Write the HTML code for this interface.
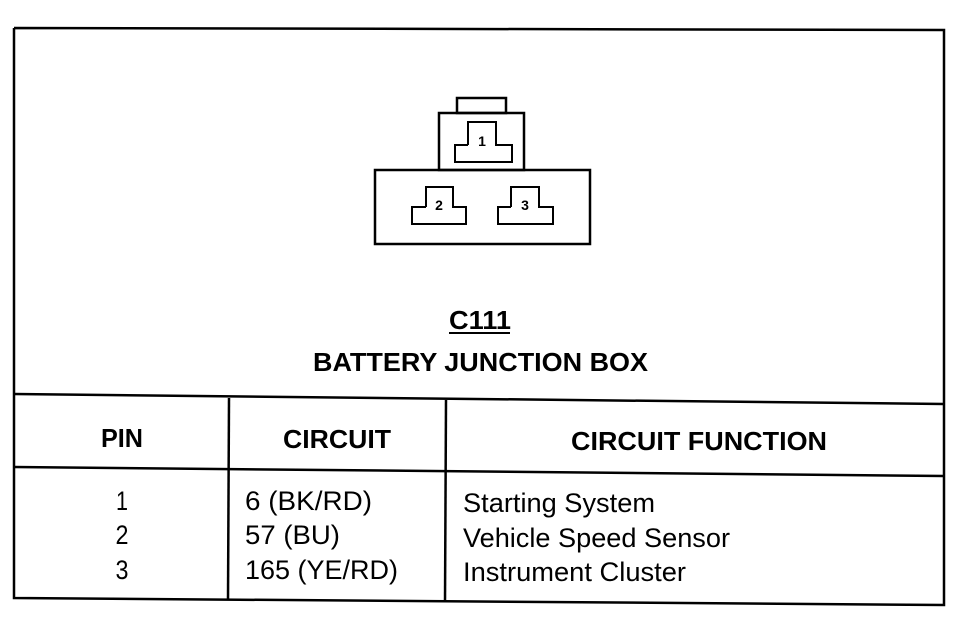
<!DOCTYPE html>
<html><head><style>body{margin:0;background:#fff}svg{display:block}</style></head><body>
<svg width="966" height="640" xmlns="http://www.w3.org/2000/svg" font-family="Liberation Sans, Arial, sans-serif">
<g fill="none" stroke="#000" stroke-width="2.5">
<polyline points="14,28 944,30 944,605 14,598 14,28"/>
<line x1="14" y1="394" x2="944" y2="404"/>
<line x1="14" y1="467" x2="944" y2="476"/>
<line x1="229" y1="398" x2="228" y2="600"/>
<line x1="446" y1="400" x2="445" y2="602"/>
<rect x="457" y="98" width="49" height="15"/>
<rect x="439" y="113" width="85" height="57"/>
<rect x="375" y="170" width="215" height="74"/>
<polyline stroke-width="2" points="468,145 468,122 496,122 496,145 512,145 512,162 455,162 455,145 468,145"/>
<polyline stroke-width="2" points="426,207 426,187 453,187 453,207 466,207 466,224 412,224 412,207 426,207"/>
<polyline stroke-width="2" points="511,207 511,187 539,187 539,207 553,207 553,224 498,224 498,207 511,207"/>
</g>
<g font-size="14" font-weight="bold" text-anchor="middle"><text x="482" y="146">1</text><text x="439" y="210">2</text><text x="525" y="210">3</text></g>
<g font-weight="bold" font-size="26">
<text x="449" y="329" textLength="62" lengthAdjust="spacingAndGlyphs">C111</text>
<text x="313" y="371" textLength="335" lengthAdjust="spacingAndGlyphs">BATTERY JUNCTION BOX</text>
<text x="101" y="447" textLength="42" lengthAdjust="spacingAndGlyphs">PIN</text>
<text x="283" y="448" textLength="108" lengthAdjust="spacingAndGlyphs">CIRCUIT</text>
<text x="571" y="450" textLength="256" lengthAdjust="spacingAndGlyphs">CIRCUIT FUNCTION</text>
</g>
<line x1="449" y1="333" x2="510" y2="333" stroke="#000" stroke-width="2"/>
<g font-size="27">
<text x="122" y="510" text-anchor="middle" textLength="12" lengthAdjust="spacingAndGlyphs">1</text>
<text x="122" y="544" text-anchor="middle" textLength="13" lengthAdjust="spacingAndGlyphs">2</text>
<text x="122" y="579" text-anchor="middle" textLength="13" lengthAdjust="spacingAndGlyphs">3</text>
<text x="245" y="510" textLength="127" lengthAdjust="spacingAndGlyphs">6 (BK/RD)</text>
<text x="245" y="544" textLength="95" lengthAdjust="spacingAndGlyphs">57 (BU)</text>
<text x="245" y="579" textLength="153" lengthAdjust="spacingAndGlyphs">165 (YE/RD)</text>
<text x="463" y="512" textLength="192" lengthAdjust="spacingAndGlyphs">Starting System</text>
<text x="463" y="547" textLength="267" lengthAdjust="spacingAndGlyphs">Vehicle Speed Sensor</text>
<text x="463" y="581" textLength="223" lengthAdjust="spacingAndGlyphs">Instrument Cluster</text>
</g>
</svg>
</body></html>
